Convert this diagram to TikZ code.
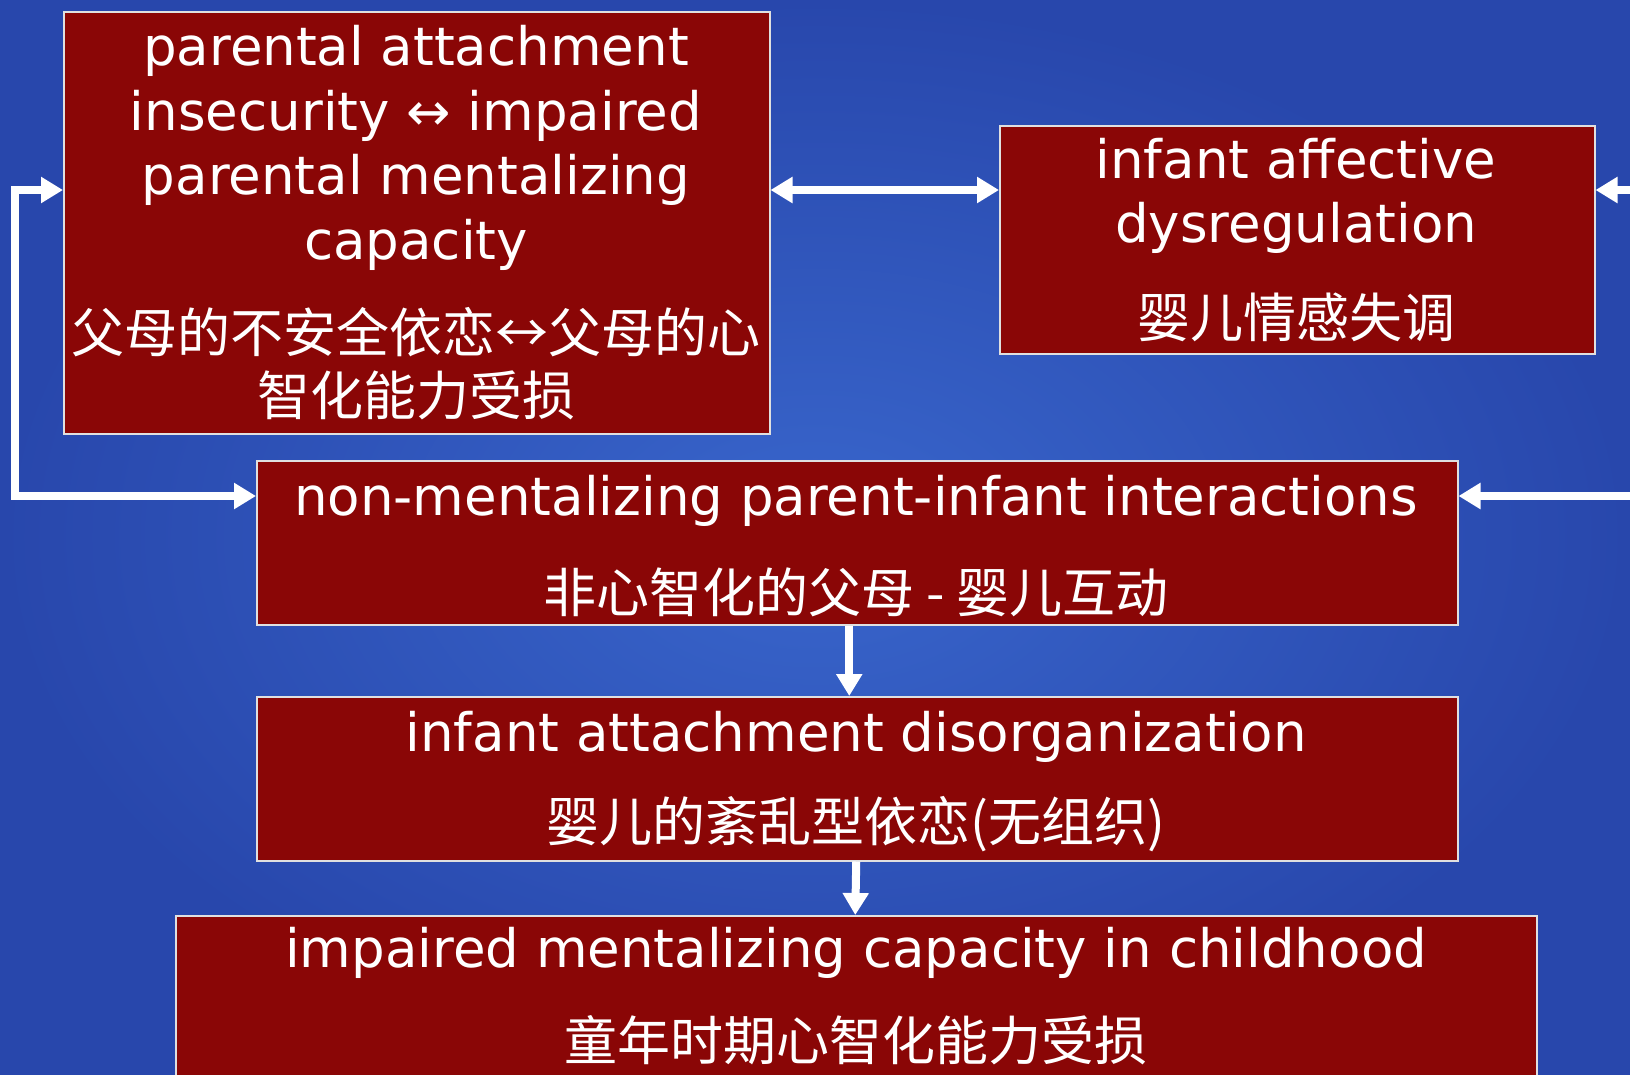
\documentclass[tikz,border=0pt]{standalone}
\usepackage{fontspec}
\setmainfont{DejaVu Sans}
\newfontfamily\cjk{Noto Sans CJK SC}
\usetikzlibrary{arrows.meta}

\definecolor{slidedark}{HTML}{2847AC}
\definecolor{slidelight}{HTML}{3966CC}
\definecolor{boxred}{HTML}{8A0606}

\newcommand\entxt{\fontsize{53}{64.5}\selectfont}
\newcommand\zhtxt{\cjk\fontsize{53}{63}\selectfont}

\tikzset{
  redbox/.style={draw=black!12, line width=1.5pt, fill=boxred, anchor=north west, inner sep=0pt},
  entext/.style={text=white, align=center, inner sep=0pt, font=\entxt},
  zhtext/.style={text=white, align=center, inner sep=0pt, font=\zhtxt},
  flow/.style={white, line width=8pt, -{Triangle[length=22pt,width=25pt]}},
  bothflow/.style={white, line width=8pt, {Triangle[length=22pt,width=25pt]}-{Triangle[length=22pt,width=25pt]}}
}

\begin{document}
\begin{tikzpicture}[x=1pt, y=-1pt]
			%%%%% START %%%%%
			
			\useasboundingbox (0, 0) rectangle (1630, 1074);
			\clip (0, 0) rectangle (1630, 1074);
			\shade[inner color=slidelight, outer color=slidedark] (0, 0) rectangle (1630, 1074);
			
			% boxes
			\node[redbox, minimum width=706pt, minimum height=422pt] (parent) at (63, 11) {};
			\node[redbox, minimum width=595pt, minimum height=228pt] (affect) at (999, 125) {};
			\node[redbox, minimum width=1201pt, minimum height=164pt] (nonment) at (256, 460) {};
			\node[redbox, minimum width=1201pt, minimum height=164pt] (disorg) at (256, 696) {};
			\node[redbox, minimum width=1361pt, minimum height=164pt] (child) at (175, 915) {};
			
			% texts
			\node[entext] (parenten) at (416, 148) {parental attachment\\insecurity ↔ impaired\\parental mentalizing\\capacity};
			\node[zhtext] (parentzh) at (416, 364) {父母的不安全依恋↔父母的心\\智化能力受损};
			
			\node[entext] (affecten) at (1296, 196) {infant affective\\dysregulation};
			\node[zhtext] (affectzh) at (1296, 317) {婴儿情感失调};
			
			\node[entext] (nonmenten) at (856, 501) {non-mentalizing parent-infant interactions};
			\node[zhtext] (nonmentzh) at (856, 592) {非心智化的父母 - 婴儿互动};
			
			\node[entext] (disorgen) at (856, 737) {infant attachment disorganization};
			\node[zhtext] (disorgzh) at (856, 824) {婴儿的紊乱型依恋(无组织)};
			
			\node[entext] (childen) at (856, 953) {impaired mentalizing capacity in childhood};
			\node[zhtext] (childzh) at (856, 1040) {童年时期心智化能力受损};
			
			% arrows
			\coordinate (upper) at (0, 190);
			\coordinate (lower) at (0, 496);
			\coordinate (leftrun) at (15, 0);
			\coordinate (rightend) at (1630, 0);
			
			\draw[bothflow] (parent.east |- upper) -- (affect.west |- upper);
			\draw[bothflow] (parent.west |- upper) -- (leftrun |- upper) -- (leftrun |- lower) -- (nonment.west |- lower);
			\draw[flow] (rightend |- upper) -- (affect.east |- upper);
			\draw[flow] (rightend |- lower) -- (nonment.east |- lower);
			\draw[flow] ([xshift=-8pt]nonment.south) -- ([xshift=-8pt]disorg.north);
			\draw[flow] ([xshift=-1pt]disorg.south) -- ([xshift=-1pt]child.north);
			
			%%%%% END %%%%%
		\end{tikzpicture}
\end{document}
